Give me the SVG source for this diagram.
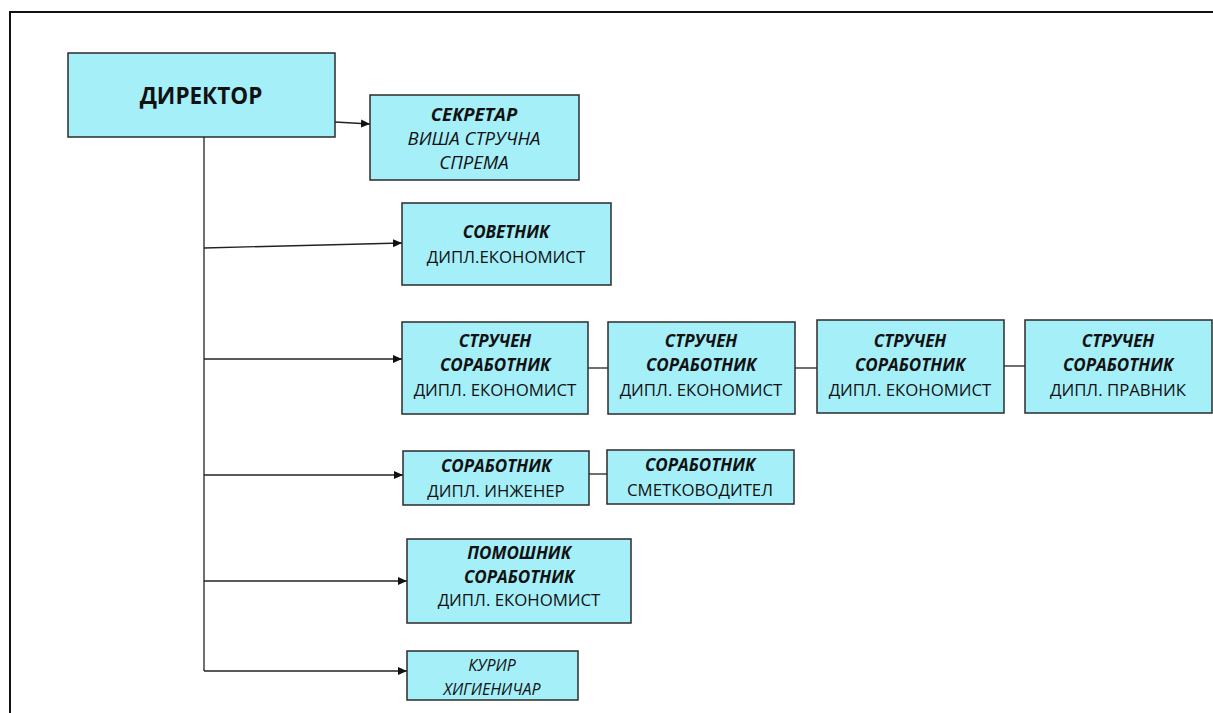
<svg xmlns="http://www.w3.org/2000/svg" width="1213" height="713" viewBox="0 0 1213 713">
<defs>
<marker id="ah" markerWidth="9" markerHeight="8" refX="9" refY="4" orient="auto" markerUnits="userSpaceOnUse">
<path d="M0,0 L9,4 L0,8 Z" fill="#111"/>
</marker>
<style>
.box{fill:#A5EFF9;stroke:#2b2b2b;stroke-width:1.5}
.t{font-family:"Open Sans","Noto Sans","DejaVu Sans",sans-serif;font-size:16.8px;fill:#111;text-anchor:middle}
.bi{font-weight:bold;font-style:italic;font-size:17px}
.i{font-style:italic}
.big{font-size:18.5px}
.c{stroke:#222;stroke-width:1.3;fill:none}
.a{marker-end:url(#ah)}
</style>
</defs>
<rect width="1213" height="713" fill="#fff"/>
<path d="M10,713 L10,12 L1213,12" fill="none" stroke="#111" stroke-width="2"/>

<g id="connectors">
<line class="c" x1="204" y1="137" x2="204" y2="671"/>
<line class="c a" x1="335" y1="122" x2="370" y2="124"/>
<line class="c a" x1="204" y1="248" x2="402" y2="243"/>
<line class="c a" x1="204" y1="359" x2="402" y2="359"/>
<line class="c" x1="588" y1="368" x2="608" y2="368"/>
<line class="c" x1="795" y1="368" x2="817" y2="368"/>
<line class="c" x1="1004" y1="366" x2="1025" y2="366"/>
<line class="c a" x1="204" y1="475" x2="403" y2="475"/>
<line class="c" x1="589" y1="474" x2="607" y2="474"/>
<line class="c a" x1="204" y1="581" x2="407" y2="581"/>
<line class="c a" x1="204" y1="671" x2="407" y2="671"/>
</g>

<g id="director">
<rect class="box" x="68" y="53" width="267" height="84"/>
<text class="t" x="201" y="104" style="font-weight:bold;font-size:22.5px">ДИРЕКТОР</text>
</g>

<g id="sekretar">
<rect class="box" x="370" y="95" width="209" height="85"/>
<text class="t bi big" x="474" y="121">СЕКРЕТАР</text>
<text class="t i big" x="474" y="145">ВИША СТРУЧНА</text>
<text class="t i big" x="474" y="169">СПРЕМА</text>
</g>

<g id="sovetnik">
<rect class="box" x="402" y="203" width="209" height="82"/>
<text class="t bi" x="506" y="238">СОВЕТНИК</text>
<text class="t" x="506" y="263">ДИПЛ.ЕКОНОМИСТ</text>
</g>

<g id="strucen1">
<rect class="box" x="402" y="322" width="186" height="92"/>
<text class="t bi" x="495" y="347">СТРУЧЕН</text>
<text class="t bi" x="495" y="371">СОРАБОТНИК</text>
<text class="t" x="495" y="396">ДИПЛ. ЕКОНОМИСТ</text>
</g>

<g id="strucen2">
<rect class="box" x="608" y="322" width="187" height="92"/>
<text class="t bi" x="701" y="347">СТРУЧЕН</text>
<text class="t bi" x="701" y="371">СОРАБОТНИК</text>
<text class="t" x="701" y="396">ДИПЛ. ЕКОНОМИСТ</text>
</g>

<g id="strucen3">
<rect class="box" x="817" y="320" width="187" height="93"/>
<text class="t bi" x="910" y="347">СТРУЧЕН</text>
<text class="t bi" x="910" y="371">СОРАБОТНИК</text>
<text class="t" x="910" y="396">ДИПЛ. ЕКОНОМИСТ</text>
</g>

<g id="strucen4">
<rect class="box" x="1025" y="320" width="187" height="93"/>
<text class="t bi" x="1118" y="347">СТРУЧЕН</text>
<text class="t bi" x="1118" y="371">СОРАБОТНИК</text>
<text class="t" x="1118" y="396">ДИПЛ. ПРАВНИК</text>
</g>

<g id="sorabotnik1">
<rect class="box" x="403" y="451" width="186" height="54"/>
<text class="t bi" x="496" y="472">СОРАБОТНИК</text>
<text class="t" x="496" y="497">ДИПЛ. ИНЖЕНЕР</text>
</g>

<g id="sorabotnik2">
<rect class="box" x="607" y="450" width="187" height="54"/>
<text class="t bi" x="700" y="471">СОРАБОТНИК</text>
<text class="t" x="700" y="496">СМЕТКОВОДИТЕЛ</text>
</g>

<g id="pomosnik">
<rect class="box" x="407" y="539" width="224" height="84"/>
<text class="t bi" x="519" y="559">ПОМОШНИК</text>
<text class="t bi" x="519" y="583">СОРАБОТНИК</text>
<text class="t" x="519" y="606">ДИПЛ. ЕКОНОМИСТ</text>
</g>

<g id="kurir">
<rect class="box" x="407" y="651" width="171" height="49"/>
<text class="t i" x="492" y="671" style="font-size:16px">КУРИР</text>
<text class="t i" x="492" y="695" style="font-size:16px">ХИГИЕНИЧАР</text>
</g>
</svg>
